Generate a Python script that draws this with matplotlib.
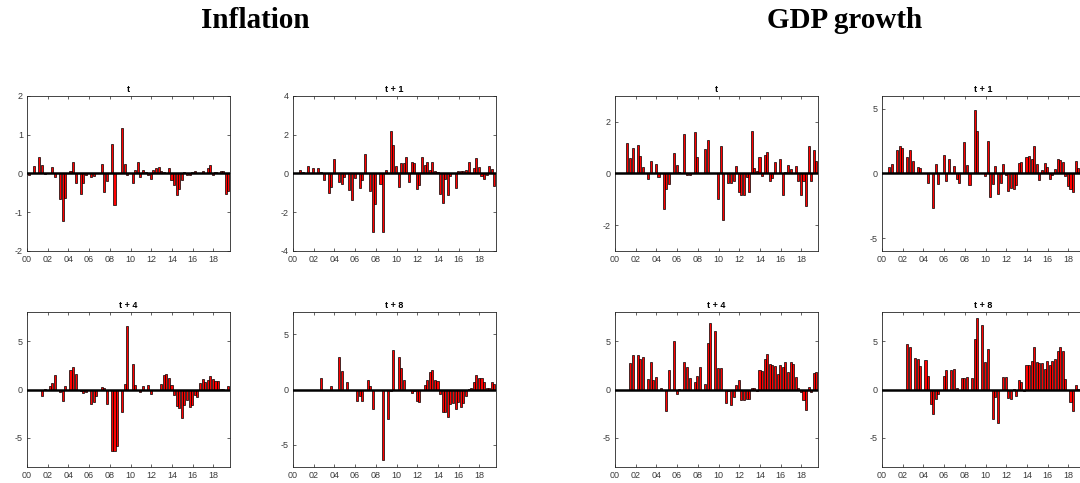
import numpy as np
from matplotlib import pyplot as plt

plt.rcParams['font.family'] = ['Liberation Sans', 'DejaVu Sans']
plt.rcParams['axes.unicode_minus'] = False

# quarterly forecast errors, 2000Q1 .. 2019Q2 (0 = no forecast that quarter)
infl_t = [-0.03, 0, 0.2, 0, 0.42, 0.22, -0.02, 0, 0, 0.18,
          -0.08, 0, -0.65, -1.22, -0.62, 0, 0.06, 0.3, -0.25, 0,
          -0.52, -0.25, -0.05, 0, -0.08, -0.06, 0.02, 0, 0.25, -0.47,
          -0.2, 0, 0.75, -0.82, 0.02, 0, 1.18, 0.24, -0.05, 0,
          -0.25, 0.1, 0.3, -0.1, 0.08, 0.05, -0.04, -0.15, 0.1, 0.13,
          0.16, 0.06, 0.03, 0, 0.14, -0.18, -0.3, -0.55, -0.4, -0.18,
          0.05, -0.05, -0.05, 0.03, 0.06, 0, 0.02, 0.07, 0, 0.15,
          0.23, -0.05, 0.03, 0.02, 0.07, 0.07, -0.52, -0.45]
infl_t1 = [0.02, 0, 0.18, 0.1, 0, 0.38, 0, 0.28, 0, 0.28,
           0.1, -0.32, 0, -1.0, -0.72, 0.75, 0, -0.42, -0.55, -0.2,
           0, -0.85, -1.35, -0.22, 0, -0.75, -0.35, 1.0, 0, -0.92,
           -3.0, -1.6, 0, -0.55, -3.0, 0.18, 0, 2.18, 1.48, 0.38,
           -0.72, 0.55, 0.55, 0.85, -0.45, 0.58, 0.55, -0.78, -0.6, 0.85,
           0.42, 0.58, 0.2, 0.58, 0.15, 0.1, -1.05, -1.5, -0.3, -1.1,
           -0.12, 0.02, -0.75, 0.12, 0.15, 0.15, 0.2, 0.58, 0.02, 0.3,
           0.8, 0.32, -0.15, -0.28, -0.1, 0.38, 0.22, -0.65]
infl_t4 = [0, 0, 0, 0, 0, -0.7, 0.05, 0, 0.35, 0.65,
           1.45, 0, -0.25, -1.15, 0.35, 0, 2.05, 2.3, 1.65, 0,
           -0.15, -0.35, -0.3, 0, -1.45, -1.3, -0.65, 0, 0.25, 0.15,
           -1.5, 0, -6.3, -6.3, -5.8, 0, -2.35, 0.6, 6.6, 0,
           2.65, 0.45, -0.1, -0.25, 0.35, 0, 0.45, -0.5, 0, 0,
           0, 0.55, 1.5, 1.55, 1.2, 0.5, -0.6, -1.7, -1.9, -2.9,
           -1.6, -1.1, -1.8, -1.6, -0.6, -0.8, 0.7, 1.05, 0.75, 0.95,
           1.4, 1.05, 0.9, 0.85, 0.1, 0.05, 0, 0.35]
infl_t8 = [0, 0, 0, 0, 0, 0, 0, 0, 0, 0,
           1.05, 0, 0, 0, 0.35, 0, 0, 2.95, 1.7, 0,
           0.65, 0, 0, 0, -1.0, -0.6, -1.0, 0, 0.88, 0.35,
           -1.8, 0, 0, 0, -6.4, 0, -2.65, -0.1, 3.6, 0,
           2.9, 1.9, 0.9, 0, 0, -0.3, -0.15, -1.0, -1.1, 0,
           0.4, 0.85, 1.55, 1.75, 0.9, 0.8, -0.4, -2.05, -2.05, -2.45,
           -1.35, -1.2, -1.8, -1.1, -1.6, -1.2, -0.55, 0.05, 0.15, 0.7,
           1.35, 1.05, 1.0, 0.7, 0.15, 0.15, 0.7, 0.5]

gdp_t = [0, 0.02, 0, 0, 1.18, 0.6, 0.98, 0, 1.1, 0.68,
         0.25, 0, -0.2, 0.5, 0, 0.35, -0.12, 0, -1.38, -0.6,
         -0.42, 0, 0.8, 0.32, 0.05, 0, 1.52, -0.05, -0.05, 0,
         1.6, 0.65, 0, 0, 0.95, 1.28, 0, 0, 0, -0.98,
         1.07, -1.8, 0, -0.38, -0.38, -0.3, 0.28, -0.7, -0.85, -0.82,
         -0.12, -0.72, 1.65, 0.22, 0.08, 0.62, -0.1, 0.7, 0.82, -0.3,
         -0.18, 0.45, 0, 0.58, -0.82, 0.05, 0.32, 0.18, 0, 0.3,
         -0.28, -0.85, -0.3, -1.25, 1.05, -0.28, 0.92, 0.5]
gdp_t1 = [0, 0, 0.5, 0.75, 0, 1.8, 2.15, 2.0, 0, 1.3,
          1.85, 0.95, 0, 0.5, 0.42, 0, 0.05, -0.72, 0, -2.65,
          0.72, -0.8, 0, 1.4, -0.55, 1.1, 0, 0.6, -0.4, -0.72,
          0, 2.4, 0.62, -0.9, 0, 4.9, 3.3, 0, 0, -0.22,
          2.5, -1.8, -0.85, 0.6, -1.6, -0.75, 0.7, -0.1, -1.35, -1.1,
          -1.2, -0.9, 0.8, 0.9, 0, 1.25, 1.35, 1.1, 2.1, 0.7,
          -0.5, 0.28, 0.85, 0.52, -0.45, -0.15, 0.35, 1.15, 1.05, 0.9,
          -0.18, -1.0, -1.2, -1.45, 0.95, 0.4, -0.3, 0.6]
gdp_t4 = [0, 0, 0, 0, 0, 2.75, 3.55, 0, 3.55, 3.15,
          3.35, 0, 1.1, 2.85, 1.0, 1.25, -0.05, 0.15, 0, -2.25,
          2.05, 0, 5.0, -0.5, 0.1, 0, 2.85, 2.3, 1.2, 0,
          0.75, 1.35, 2.3, 0, 0.6, 4.8, 6.9, 0, 6.05, 2.25,
          2.25, 0, -1.35, -0.15, -1.55, -0.8, 0.5, 0.95, -1.1, -1.05,
          -1.0, -1.0, 0.2, 0.15, -0.2, 2.0, 1.9, 3.15, 3.65, 2.6,
          2.55, 2.45, 1.55, 2.55, 2.35, 2.8, 1.8, 2.8, 2.6, 1.3,
          0.15, -0.25, -1.05, -2.1, 0.25, -0.3, 1.75, 1.8]
gdp_t8 = [0, 0, 0, 0, 0, 0, 0, 0, 0, 4.7,
          4.35, 0, 3.3, 3.1, 2.45, 0, 3.05, 1.4, -1.45, -2.55,
          -0.95, -0.5, 0, 1.4, 2.0, 0, 2.05, 2.15, 0.2, 0,
          1.2, 1.2, 1.3, 0, 1.15, 5.2, 7.4, 0, 6.7, 2.85,
          4.15, 0, -3.05, -0.75, -3.5, 0, 1.3, 1.3, -0.85, -1.0,
          0.1, -0.65, 0.95, 0.75, -0.2, 2.5, 2.5, 2.9, 4.35, 2.85,
          2.7, 2.75, 2.1, 2.95, 2.5, 2.95, 3.15, 4.0, 4.35, 3.95,
          1.05, 0, -1.25, -2.25, 0.45, 0.1, 0.3, 0.5]

horizons = ['t', 't + 1', 't + 4', 't + 8']
years = [2000, 2002, 2004, 2006, 2008, 2010, 2012, 2014, 2016, 2018]
year_labels = ['00', '02', '04', '06', '08', '10', '12', '14', '16', '18']

infl_series = [infl_t, infl_t1, infl_t4, infl_t8]
infl_ylim = [2, 4, 8, 7]
infl_yticks = [[-2, -1, 0, 1, 2], [-4, -2, 0, 2, 4], [-5, 0, 5], [-5, 0, 5]]
gdp_series = [gdp_t, gdp_t1, gdp_t4, gdp_t8]
gdp_ylim = [3, 6, 8, 8]
gdp_yticks = [[-2, 0, 2], [-5, 0, 5], [-5, 0, 5], [-5, 0, 5]]

qx = 2000.2 + 0.25 * np.arange(len(infl_t))

fig = plt.figure(figsize=(10.8, 4.83), dpi=100)

col_left = [27, 293, 615, 882]
row_top = [96, 312]
w, h = 203, 155
axc = '#262626'


def panel(left, top, vals, lim, ticks, title):
    ax = fig.add_axes([left / 1080, 1 - (top + h) / 483, w / 1080, h / 483])
    ax.bar(qx, vals, width=0.2, color='red', edgecolor='black', linewidth=0.5)
    ax.axhline(0, color='black', lw=1.8, zorder=3)
    ax.set_xlim(2000, 2019.6)
    ax.set_ylim(-lim, lim)
    ax.set_xticks(years)
    ax.set_xticklabels(year_labels)
    ax.set_yticks(ticks)
    ax.tick_params(direction='in', top=True, right=True, length=2.5, width=0.5,
                   labelsize=6.5, colors=axc, labelcolor='#3a3a3a', pad=3)
    for s in ax.spines.values():
        s.set_color(axc)
        s.set_linewidth(0.6)
    ax.set_title(title, fontsize=6.5, fontweight='bold', pad=3)
    return ax


for k in range(4):
    r, c = k // 2, k % 2
    panel(col_left[c], row_top[r], infl_series[k], infl_ylim[k], infl_yticks[k], horizons[k])
    panel(col_left[c + 2], row_top[r], gdp_series[k], gdp_ylim[k], gdp_yticks[k], horizons[k])

fig.text(255 / 1080, 1 - 21 / 483, 'Inflation', ha='center', va='center',
         fontsize=21, fontweight='bold', family='Liberation Serif')
fig.text(845 / 1080, 1 - 21 / 483, 'GDP growth', ha='center', va='center',
         fontsize=21, fontweight='bold', family='Liberation Serif')

fig.savefig('out.png', dpi=100)
